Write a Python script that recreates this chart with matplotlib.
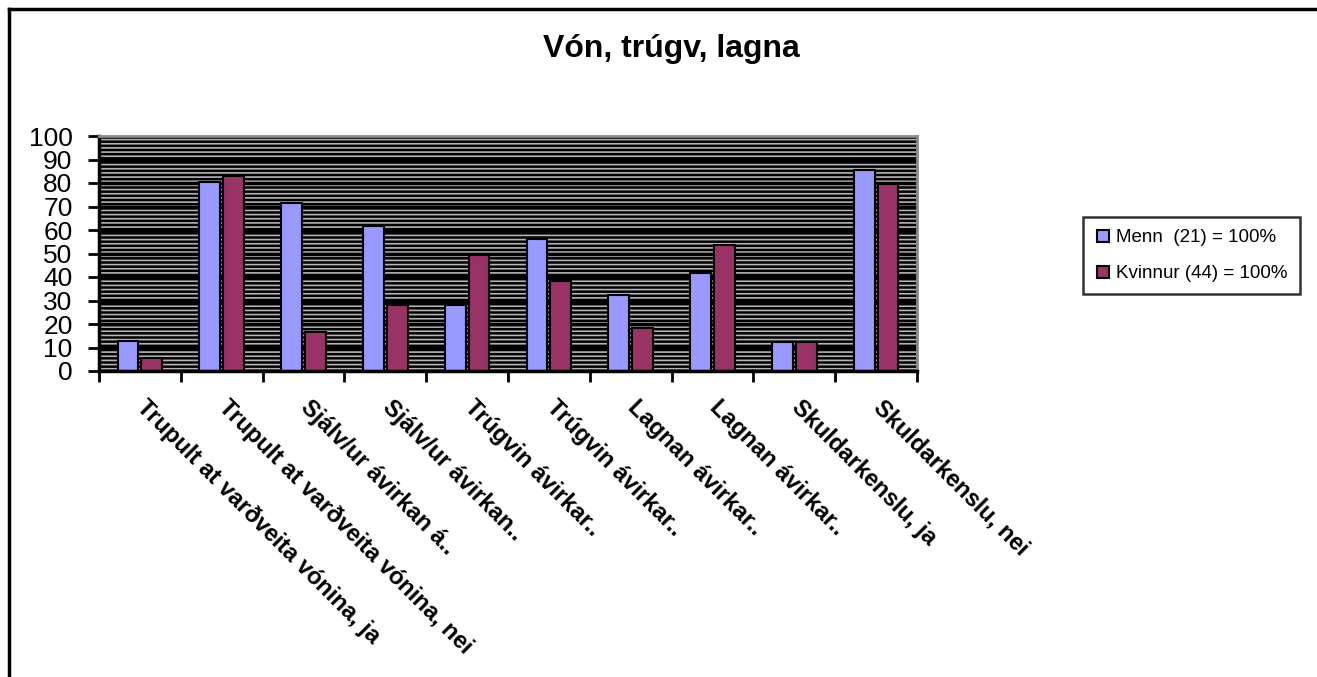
import matplotlib
matplotlib.use("Agg")
import matplotlib.pyplot as plt
import matplotlib.transforms as mtransforms
import numpy as np
from matplotlib.patches import Rectangle
from matplotlib.lines import Line2D

plt.rcParams['font.family'] = ['Liberation Sans', 'DejaVu Sans']
plt.rcParams['hatch.linewidth'] = 1.2

title = "Vón, trúgv, lagna"
categories = [
    "Trupult at varðveita vónina, ja",
    "Trupult at varðveita vónina, nei",
    "Sjálv/ur ávirkan á..",
    "Sjálv/ur ávirkan..",
    "Trúgvin ávirkar..",
    "Trúgvin ávirkar..",
    "Lagnan ávirkar..",
    "Lagnan ávirkar..",
    "Skuldarkenslu, ja",
    "Skuldarkenslu, nei",
]
series_names = ["Menn  (21) = 100%", "Kvinnur (44) = 100%"]
menn = [12.6, 80.5, 71.7, 61.5, 28.2, 56.2, 32.2, 41.6, 12.5, 85.6]
kvinnur = [5.5, 82.9, 16.8, 28.2, 49.3, 38.2, 18.4, 53.7, 12.5, 79.4]
yticks = list(range(0, 101, 10))

c_blue = '#9999FF'
c_red = '#993366'

fig = plt.figure(figsize=(13.17, 6.77), dpi=100)
ax = fig.add_axes([99/1317, 1-371/677, (917-99)/1317, (371-136)/677])

# plot area: black fill with gray horizontal pattern
ax.set_facecolor('black')
ax.add_patch(Rectangle((0, 0), 1, 1, transform=ax.transAxes, facecolor='black',
                       hatch='----', edgecolor='#b4b4b4', linewidth=0, zorder=0))
ax.set_axisbelow(True)
ax.yaxis.grid(True, color='black', linewidth=2.5, zorder=0.5)

x = np.arange(len(categories))
w = 0.255
off = 0.145
ax.bar(x - off, menn, width=w, color=c_blue, edgecolor='black', linewidth=1.5, zorder=2)
ax.bar(x + off, kvinnur, width=w, color=c_red, edgecolor='black', linewidth=1.5, zorder=2)

ax.set_xlim(-0.5, len(categories) - 0.5)
ax.set_ylim(0, 100)
ax.set_yticks(yticks)
ax.set_yticklabels([str(v) for v in yticks], fontsize=19)
ax.tick_params(axis='y', direction='out', length=8, width=2, pad=11)

ax.set_xticks(x)
ax.set_xticks(np.arange(-0.5, len(categories), 1.0), minor=True)
ax.tick_params(axis='x', which='major', length=0, pad=18)
ax.tick_params(axis='x', which='minor', direction='out', length=8, width=2)
ax.set_xticklabels(categories, rotation=-45, ha='left', va='top',
                   rotation_mode='anchor', fontsize=17, fontweight='bold')
shift = mtransforms.ScaledTranslation(9/100, 0, fig.dpi_scale_trans)
for lbl in ax.get_xticklabels():
    lbl.set_transform(lbl.get_transform() + shift)

for s in ['left', 'bottom']:
    ax.spines[s].set_linewidth(2.5)
    ax.spines[s].set_color('black')
for s in ['top', 'right']:
    ax.spines[s].set_linewidth(2)
    ax.spines[s].set_color('#8a8a8a')

fig.text(671/1317, 1-49/677, title, ha='center', va='center',
         fontsize=23, fontweight='bold')

handles = [
    Line2D([], [], marker='s', linestyle='none', markersize=9,
           markerfacecolor=c_blue, markeredgecolor='black', markeredgewidth=1.5),
    Line2D([], [], marker='s', linestyle='none', markersize=9,
           markerfacecolor=c_red, markeredgecolor='black', markeredgewidth=1.5),
]
leg = fig.legend(handles, series_names, loc='upper left',
                 bbox_to_anchor=(1083/1317, 1-217/677), bbox_transform=fig.transFigure,
                 fontsize=13.5, frameon=True, fancybox=False, handlelength=0.8,
                 handletextpad=0.3, labelspacing=1.0, borderpad=0.65, borderaxespad=0)
leg.get_frame().set_edgecolor('black')
leg.get_frame().set_linewidth(1.8)

# chart border (left and top visible)
fig.add_artist(Line2D([9/1317, 9/1317], [0, 1-9/677], transform=fig.transFigure,
                      color='black', linewidth=2.5))
fig.add_artist(Line2D([9/1317, 1], [1-9/677, 1-9/677], transform=fig.transFigure,
                      color='black', linewidth=2.5))

fig.savefig('out.png', dpi=100)
